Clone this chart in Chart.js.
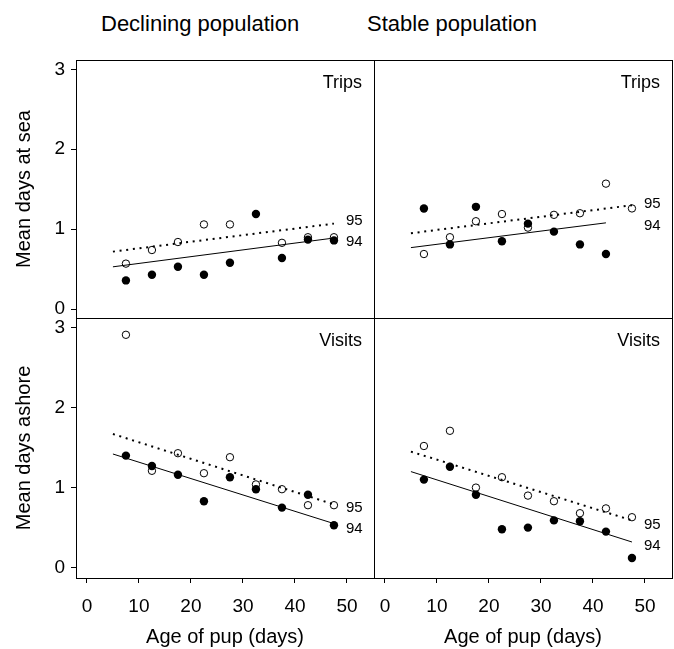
<!DOCTYPE html>
<html>
<head>
<meta charset="utf-8">
<script src="https://cdn.jsdelivr.net/npm/chart.js@4.4.0/dist/chart.umd.min.js"></script>
<style>
  body { margin: 0; background: #fff; }
  #wrap { position: relative; width: 674px; height: 649px; font-family: "Liberation Sans", Arial, sans-serif; }
  #wrap canvas { position: absolute; left: 0; top: 0; }
  .head { position: absolute; top: 13px; font-size: 22px; line-height: 22px; color: #000; white-space: nowrap; }
</style>
</head>
<body>
<div id="wrap">
  <div class="head" style="left:101px">Declining population</div>
  <div class="head" style="left:367px">Stable population</div>
  <canvas id="decTrips" width="674" height="649"></canvas>
  <canvas id="stabTrips" width="674" height="649"></canvas>
  <canvas id="decVisits" width="674" height="649"></canvas>
  <canvas id="stabVisits" width="674" height="649"></canvas>
</div>
<script>
const FONT = '"Liberation Sans", Arial, sans-serif';

// age classes (days) and axis ticks
const ages = [7.5, 12.5, 17.5, 22.5, 27.5, 32.5, 37.5, 42.5, 47.5];
const xTicks = [0, 10, 20, 30, 40, 50];
const yTicks = [0, 1, 2, 3];

// declining population - trips (mean days at sea)
const decTrips94 = [0.36, 0.43, 0.53, 0.43, 0.58, 1.19, 0.64, 0.87, 0.86];
const decTrips95 = [0.57, 0.74, 0.84, 1.06, 1.06, null, 0.83, 0.90, 0.90];
const decTripsFitX = [5, 47.5];
const decTripsFit94 = [0.53, 0.89];
const decTripsFit95 = [0.72, 1.07];

// stable population - trips
const stabTrips94 = [1.26, 0.81, 1.28, 0.85, 1.07, 0.97, 0.81, 0.69, null];
const stabTrips95 = [0.69, 0.90, 1.10, 1.19, 1.02, 1.18, 1.20, 1.57, 1.26];
const stabTripsFitX94 = [5, 42.5];
const stabTripsFitX95 = [5, 47.5];
const stabTripsFit94 = [0.77, 1.08];
const stabTripsFit95 = [0.95, 1.30];

// declining population - visits (mean days ashore)
const decVisits94 = [1.40, 1.27, 1.16, 0.83, 1.13, 0.98, 0.75, 0.91, 0.53];
const decVisits95 = [2.91, 1.21, 1.43, 1.18, 1.38, 1.04, 0.98, 0.78, 0.78];
const decVisitsFitX = [5, 47.5];
const decVisitsFit94 = [1.42, 0.55];
const decVisitsFit95 = [1.67, 0.79];

// stable population - visits
const stabVisits94 = [1.10, 1.26, 0.91, 0.48, 0.50, 0.59, 0.58, 0.45, 0.12];
const stabVisits95 = [1.52, 1.71, 1.00, 1.13, 0.90, 0.83, 0.68, 0.74, 0.63];
const stabVisitsFitX = [5, 47.5];
const stabVisitsFit94 = [1.20, 0.32];
const stabVisitsFit95 = [1.45, 0.59];

const yearLabels = ['95', '94'];

function pts(xs, ys) {
  return xs.map((x, i) => ({ x: x, y: ys[i] })).filter(p => p.y !== null);
}

// box round each panel, panel name and the year labels beside the fitted lines
const panelDeco = {
  id: 'panelDeco',
  afterDatasetsDraw(chart, args, opts) {
    const { ctx, chartArea: a, scales } = chart;
    ctx.save();
    ctx.strokeStyle = '#000';
    ctx.lineWidth = 1;
    ctx.strokeRect(a.left + 0.5, a.top + 0.5, a.right - a.left, a.bottom - a.top);
    ctx.fillStyle = '#000';
    ctx.font = '18px ' + FONT;
    ctx.textAlign = 'right';
    ctx.textBaseline = 'alphabetic';
    ctx.fillText(opts.name, a.right - 12, a.top + 27.5);
    ctx.font = '15px ' + FONT;
    ctx.textAlign = 'left';
    ctx.textBaseline = 'middle';
    opts.labelY.forEach((v, i) => {
      ctx.fillText(yearLabels[i], scales.x.getPixelForValue(49.8), scales.y.getPixelForValue(v));
    });
    ctx.restore();
  }
};

function panel(id, p) {
  const tickGrid = { drawOnChartArea: false, drawTicks: true, tickLength: 5, color: '#000', lineWidth: 1 };
  new Chart(document.getElementById(id), {
    type: 'scatter',
    data: {
      datasets: [
        { data: pts(p.fitX95, p.fit95), showLine: true, pointRadius: 0, borderColor: '#000', borderWidth: 2, borderDash: [2, 4.7] },
        { data: pts(p.fitX94, p.fit94), showLine: true, pointRadius: 0, borderColor: '#000', borderWidth: 1 },
        { data: pts(ages, p.y95), pointRadius: 3.7, pointBorderWidth: 1, pointBorderColor: '#000', pointBackgroundColor: 'rgba(0,0,0,0)' },
        { data: pts(ages, p.y94), pointRadius: 4.2, pointBorderWidth: 0, pointBackgroundColor: '#000', pointBorderColor: '#000' }
      ]
    },
    options: {
      responsive: false,
      animation: false,
      events: [],
      layout: { autoPadding: false, padding: p.pad },
      plugins: {
        legend: { display: false },
        tooltip: { enabled: false },
        panelDeco: { name: p.name, labelY: p.labelY }
      },
      scales: {
        x: {
          type: 'linear', min: -2.1, max: 55.2, display: p.showX,
          afterBuildTicks: axis => { axis.ticks = xTicks.map(v => ({ value: v })); },
          afterFit: axis => { if (p.showX) axis.height = 71; },
          grid: tickGrid,
          border: { display: false },
          ticks: { color: '#000', font: { size: 19, family: FONT }, padding: 12, maxRotation: 0 },
          title: { display: true, text: 'Age of pup (days)', color: '#000', font: { size: 20, family: FONT }, padding: 0 }
        },
        y: {
          type: 'linear', min: p.yMin, max: p.yMax, display: p.showY,
          afterBuildTicks: axis => { axis.ticks = yTicks.map(v => ({ value: v })); },
          afterFit: axis => { if (p.showY) axis.width = 76; },
          grid: tickGrid,
          border: { display: false },
          ticks: { color: '#000', font: { size: 19, family: FONT }, padding: 6 },
          title: { display: true, text: p.yTitle, color: '#000', font: { size: 20, family: FONT }, padding: { top: 12, bottom: 0 } }
        }
      }
    },
    plugins: [panelDeco]
  });
}

panel('decTrips', {
  pad: { left: 0, top: 60, right: 300, bottom: 331 }, showX: false, showY: true,
  yMin: -0.11, yMax: 3.116, yTitle: 'Mean days at sea', name: 'Trips',
  y94: decTrips94, y95: decTrips95,
  fitX94: decTripsFitX, fitX95: decTripsFitX, fit94: decTripsFit94, fit95: decTripsFit95,
  labelY: [1.11, 0.845]
});
panel('stabTrips', {
  pad: { left: 374, top: 60, right: 2, bottom: 331 }, showX: false, showY: false,
  yMin: -0.11, yMax: 3.116, yTitle: '', name: 'Trips',
  y94: stabTrips94, y95: stabTrips95,
  fitX94: stabTripsFitX94, fitX95: stabTripsFitX95, fit94: stabTripsFit94, fit95: stabTripsFit95,
  labelY: [1.316, 1.045]
});
panel('decVisits', {
  pad: { left: 0, top: 318, right: 300, bottom: 0 }, showX: true, showY: true,
  yMin: -0.13, yMax: 3.12, yTitle: 'Mean days ashore', name: 'Visits',
  y94: decVisits94, y95: decVisits95,
  fitX94: decVisitsFitX, fitX95: decVisitsFitX, fit94: decVisitsFit94, fit95: decVisitsFit95,
  labelY: [0.75, 0.49]
});
panel('stabVisits', {
  pad: { left: 374, top: 318, right: 2, bottom: 0 }, showX: true, showY: false,
  yMin: -0.13, yMax: 3.12, yTitle: '', name: 'Visits',
  y94: stabVisits94, y95: stabVisits95,
  fitX94: stabVisitsFitX, fitX95: stabVisitsFitX, fit94: stabVisitsFit94, fit95: stabVisitsFit95,
  labelY: [0.53, 0.275]
});
</script>
</body>
</html>
